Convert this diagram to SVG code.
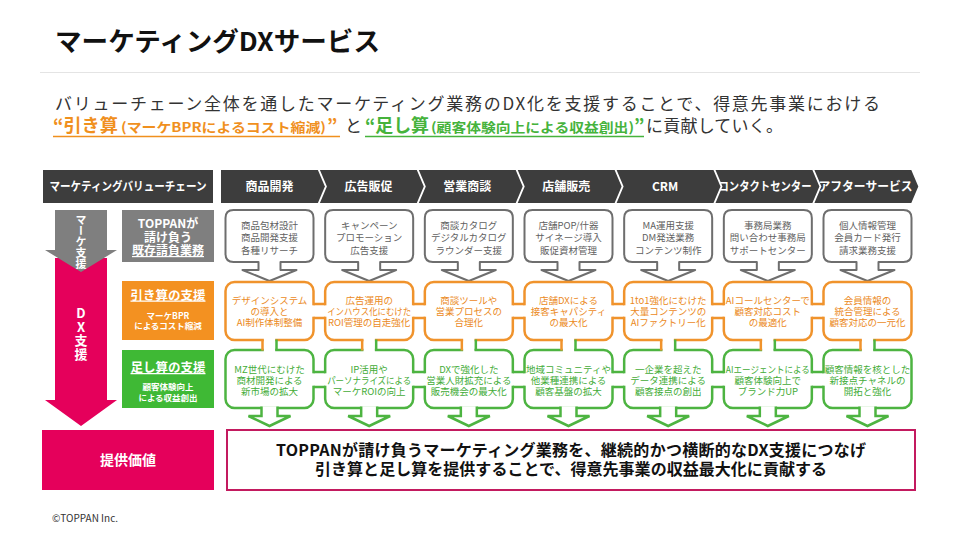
<svg xmlns="http://www.w3.org/2000/svg" width="960" height="540" viewBox="0 0 960 540">
<style>
text{font-family:"Noto Sans CJK JP","Noto Sans",sans-serif}
.hdr{fill:#3d3d3d}
.ht{fill:#fff;font-weight:bold;font-size:12px;text-anchor:middle}
.gb{fill:#fff;stroke:#6e6e6e;stroke-width:2;stroke-linejoin:round}
.gt{fill:#5f5f5f;font-size:9.5px;text-anchor:middle}
.ob{fill:#fff;stroke:#f0932c;stroke-width:2.5}
.ot{fill:#eb8a1d;font-size:9.5px;text-anchor:middle}
.nb{fill:#fff;stroke:#4db441;stroke-width:2.5}
.nt{fill:#43ac37;font-size:9.5px;text-anchor:middle}
.wl{fill:#fff;font-weight:bold;text-anchor:middle}
.vt{fill:#fff;font-weight:bold;writing-mode:vertical-rl;text-orientation:upright}
.ol{stroke:#f0932c;stroke-width:2.5;fill:none}
.nl{stroke:#4db441;stroke-width:2.5;fill:none}
</style>
<defs>
<path id="callout" d="M-36,210H36Q44,210 44,218V254Q44,262 36,262H11V270H27L0,281L-27,270H-11V262H-36Q-44,262 -44,254V218Q-44,210 -36,210Z"/>
<path id="chev" d="M0,170H96.9L103.9,186.5L96.9,203H0L7,186.5Z"/>
<g id="obr"><rect x="-2" y="305.3" width="15.7" height="11.4" fill="#fff"/><path class="ol" d="M0,304H11.7M0,318H11.7"/></g>
<g id="nbr"><rect x="-2" y="373.3" width="15.7" height="12.4" fill="#fff"/><path class="nl" d="M0,372H11.7M0,387H11.7"/></g>
<g id="vbr"><rect x="-5.7" y="337" width="11.4" height="16" fill="#fff"/><path class="ol" d="M-7,339.5V350.5"/><path class="nl" d="M7,339.5V350.5"/></g>
<path id="gar" d="M-8,406.5V416H-21L0,426L21,416H8V406.5" fill="#fff" stroke="#4db441" stroke-width="2.5"/>
</defs>

<g id="title">
<text x="55" y="51" font-size="26" font-weight="bold" fill="#111" textLength="325" lengthAdjust="spacingAndGlyphs">マーケティングDXサービス</text>
<line x1="40" y1="72.5" x2="920" y2="72.5" stroke="#e4e4e4" stroke-width="1"/>
</g>

<g id="lead">
<text x="55" y="110" font-size="17" fill="#333" textLength="825" lengthAdjust="spacing">バリューチェーン全体を通したマーケティング業務のDX化を支援することで、得意先事業における</text>
<text y="132" font-weight="bold" fill="#f0901e"><tspan x="53" font-size="18" textLength="65" lengthAdjust="spacingAndGlyphs">“引き算</tspan><tspan x="121" font-size="13" textLength="205" lengthAdjust="spacingAndGlyphs">(マーケBPRによるコスト縮減)</tspan><tspan x="327" font-size="18">”</tspan></text>
<line x1="53" y1="136.5" x2="340" y2="136.5" stroke="#f0901e" stroke-width="1.5"/>
<text x="345" y="132" font-size="17" fill="#333">と</text>
<text y="132" font-weight="bold" fill="#46b33c"><tspan x="365" font-size="18" textLength="64" lengthAdjust="spacingAndGlyphs">“足し算</tspan><tspan x="431" font-size="13" textLength="203" lengthAdjust="spacingAndGlyphs">(顧客体験向上による収益創出)</tspan><tspan x="634" font-size="18">”</tspan></text>
<line x1="365" y1="136.5" x2="644" y2="136.5" stroke="#46b33c" stroke-width="1.5"/>
<text x="646" y="132" font-size="17" fill="#333" textLength="137" lengthAdjust="spacing">に貢献していく。</text>
</g>

<g id="header">
<g id="h-label"><rect class="hdr" x="43" y="170" width="170" height="33"/><text class="ht" x="128" y="190.5" font-size="11" textLength="157" lengthAdjust="spacingAndGlyphs">マーケティングバリューチェーン</text></g>
<g id="h1"><path class="hdr" d="M221,170H317.9L324.9,186.5L317.9,203H221Z"/><text class="ht" x="269.5" y="191">商品開発</text></g>
<g id="h2"><use href="#chev" x="319.9" class="hdr"/><text class="ht" x="368.4" y="191">広告販促</text></g>
<g id="h3"><use href="#chev" x="418.8" class="hdr"/><text class="ht" x="467.3" y="191">営業商談</text></g>
<g id="h4"><use href="#chev" x="517.7" class="hdr"/><text class="ht" x="566.2" y="191">店舗販売</text></g>
<g id="h5"><use href="#chev" x="616.6" class="hdr"/><text class="ht" x="665.1" y="191">CRM</text></g>
<g id="h6"><use href="#chev" x="715.5" class="hdr"/><text class="ht" x="765" y="190.5" font-size="11" textLength="93" lengthAdjust="spacingAndGlyphs">コンタクトセンター</text></g>
<g id="h7"><use href="#chev" x="814.4" class="hdr"/><text class="ht" x="865.5" y="190.5" font-size="11.5" textLength="94" lengthAdjust="spacingAndGlyphs">アフターサービス</text></g>
</g>

<g id="side-arrows">
<path d="M55,258H107V400H117L81,426L45,400H55Z" fill="#e5005b"/>
<path d="M55,210H107V250H117L81,272L45,250H55Z" fill="#7f7f7f"/>
<text class="vt" x="81" y="214" font-size="11">マーケ支援</text>
<text class="vt" x="81" y="307" font-size="13" letter-spacing="0.5">DX支援</text>
</g>

<g id="row-existing"><rect x="122" y="210" width="92" height="52" fill="#7f7f7f"/>
<text class="wl" font-size="12"><tspan x="168" y="227.5">TOPPANが</tspan><tspan x="168" y="241.5">請け負う</tspan><tspan x="168" y="255" text-decoration="underline">既存請負業務</tspan></text></g>
<g id="row-cut"><rect x="122" y="281" width="92" height="59" fill="#f39121"/>
<text class="wl"><tspan x="168" y="299.5" font-size="12.5" text-decoration="underline">引き算の支援</tspan><tspan x="168" y="318.5" font-size="8.5">マーケBPR</tspan><tspan x="168" y="329" font-size="8.5">によるコスト縮減</tspan></text></g>
<g id="row-add"><rect x="122" y="350" width="92" height="58" fill="#3fb935"/>
<text class="wl"><tspan x="168" y="372" font-size="12.5" text-decoration="underline">足し算の支援</tspan><tspan x="168" y="390" font-size="8.5">顧客体験向上</tspan><tspan x="168" y="401" font-size="8.5">による収益創出</tspan></text></g>

<g id="c1-base" transform="translate(269.5,0)"><use href="#callout" class="gb"/><text class="gt"><tspan x="0" y="228.6">商品包材設計</tspan><tspan x="0" y="241.4">商品開発支援</tspan><tspan x="0" y="253.8">各種リサーチ</tspan></text></g>
<g id="c2-base" transform="translate(369.17,0)"><use href="#callout" class="gb"/><text class="gt"><tspan x="0" y="228.6">キャンペーン</tspan><tspan x="0" y="241.4">プロモーション</tspan><tspan x="0" y="253.8">広告支援</tspan></text></g>
<g id="c3-base" transform="translate(468.83,0)"><use href="#callout" class="gb"/><text class="gt"><tspan x="0" y="228.6">商談カタログ</tspan><tspan x="0" y="241.4">デジタルカタログ</tspan><tspan x="0" y="253.8">ラウンダー支援</tspan></text></g>
<g id="c4-base" transform="translate(568.5,0)"><use href="#callout" class="gb"/><text class="gt"><tspan x="0" y="228.6">店舗POP/什器</tspan><tspan x="0" y="241.4">サイネージ導入</tspan><tspan x="0" y="253.8">販促資材管理</tspan></text></g>
<g id="c5-base" transform="translate(668.17,0)"><use href="#callout" class="gb"/><text class="gt"><tspan x="0" y="228.6">MA運用支援</tspan><tspan x="0" y="241.4">DM発送業務</tspan><tspan x="0" y="253.8">コンテンツ制作</tspan></text></g>
<g id="c6-base" transform="translate(767.83,0)"><use href="#callout" class="gb"/><text class="gt"><tspan x="0" y="228.6">事務局業務</tspan><tspan x="0" y="241.4">問い合わせ事務局</tspan><tspan x="0" y="253.8">サポートセンター</tspan></text></g>
<g id="c7-base" transform="translate(867.5,0)"><use href="#callout" class="gb"/><text class="gt"><tspan x="0" y="228.6">個人情報管理</tspan><tspan x="0" y="241.4">会員カード発行</tspan><tspan x="0" y="253.8">請求業務支援</tspan></text></g>

<g id="c1-cut" transform="translate(269.5,0)"><rect class="ob" x="-44" y="282" width="88" height="58" rx="9"/><text class="ot"><tspan x="0" y="304">デザインシステム</tspan><tspan x="0" y="314.7">の導入と</tspan><tspan x="0" y="325.6">AI制作体制整備</tspan></text></g>
<g id="c2-cut" transform="translate(369.17,0)"><rect class="ob" x="-44" y="282" width="88" height="58" rx="9"/><text class="ot"><tspan x="0" y="304">広告運用の</tspan><tspan x="0" y="314.7" textLength="84" lengthAdjust="spacingAndGlyphs">インハウス化にむけた</tspan><tspan x="0" y="325.6">ROI管理の自走強化</tspan></text></g>
<g id="c3-cut" transform="translate(468.83,0)"><rect class="ob" x="-44" y="282" width="88" height="58" rx="9"/><text class="ot"><tspan x="0" y="304">商談ツールや</tspan><tspan x="0" y="314.7">営業プロセスの</tspan><tspan x="0" y="325.6">合理化</tspan></text></g>
<g id="c4-cut" transform="translate(568.5,0)"><rect class="ob" x="-44" y="282" width="88" height="58" rx="9"/><text class="ot"><tspan x="0" y="304">店舗DXによる</tspan><tspan x="0" y="314.7">接客キャパシティ</tspan><tspan x="0" y="325.6">の最大化</tspan></text></g>
<g id="c5-cut" transform="translate(668.17,0)"><rect class="ob" x="-44" y="282" width="88" height="58" rx="9"/><text class="ot"><tspan x="0" y="304">1to1強化にむけた</tspan><tspan x="0" y="314.7">大量コンテンツの</tspan><tspan x="0" y="325.6">AIファクトリー化</tspan></text></g>
<g id="c6-cut" transform="translate(767.83,0)"><rect class="ob" x="-44" y="282" width="88" height="58" rx="9"/><text class="ot"><tspan x="0" y="304">AIコールセンターで</tspan><tspan x="0" y="314.7">顧客対応コスト</tspan><tspan x="0" y="325.6">の最適化</tspan></text></g>
<g id="c7-cut" transform="translate(867.5,0)"><rect class="ob" x="-44" y="282" width="88" height="58" rx="9"/><text class="ot"><tspan x="0" y="304">会員情報の</tspan><tspan x="0" y="314.7">統合管理による</tspan><tspan x="0" y="325.6">顧客対応の一元化</tspan></text></g>

<g id="c1-add" transform="translate(269.5,0)"><rect class="nb" x="-44" y="350" width="88" height="58" rx="9"/><text class="nt"><tspan x="0" y="372.6">MZ世代にむけた</tspan><tspan x="0" y="384">商材開発による</tspan><tspan x="0" y="395.2">新市場の拡大</tspan></text></g>
<g id="c2-add" transform="translate(369.17,0)"><rect class="nb" x="-44" y="350" width="88" height="58" rx="9"/><text class="nt"><tspan x="0" y="372.6">IP活用や</tspan><tspan x="0" y="384" textLength="84" lengthAdjust="spacingAndGlyphs">パーソナライズによる</tspan><tspan x="0" y="395.2">マーケROIの向上</tspan></text></g>
<g id="c3-add" transform="translate(468.83,0)"><rect class="nb" x="-44" y="350" width="88" height="58" rx="9"/><text class="nt"><tspan x="0" y="372.6">DXで強化した</tspan><tspan x="0" y="384">営業人財拡充による</tspan><tspan x="0" y="395.2">販売機会の最大化</tspan></text></g>
<g id="c4-add" transform="translate(568.5,0)"><rect class="nb" x="-44" y="350" width="88" height="58" rx="9"/><text class="nt"><tspan x="0" y="372.6">地域コミュニティや</tspan><tspan x="0" y="384">他業種連携による</tspan><tspan x="0" y="395.2">顧客基盤の拡大</tspan></text></g>
<g id="c5-add" transform="translate(668.17,0)"><rect class="nb" x="-44" y="350" width="88" height="58" rx="9"/><text class="nt"><tspan x="0" y="372.6">一企業を超えた</tspan><tspan x="0" y="384">データ連携による</tspan><tspan x="0" y="395.2">顧客接点の創出</tspan></text></g>
<g id="c6-add" transform="translate(767.83,0)"><rect class="nb" x="-44" y="350" width="88" height="58" rx="9"/><text class="nt"><tspan x="0" y="372.6" textLength="84" lengthAdjust="spacingAndGlyphs">AIエージェントによる</tspan><tspan x="0" y="384">顧客体験向上で</tspan><tspan x="0" y="395.2">ブランド力UP</tspan></text></g>
<g id="c7-add" transform="translate(867.5,0)"><rect class="nb" x="-44" y="350" width="88" height="58" rx="9"/><text class="nt"><tspan x="0" y="372.6">顧客情報を核とした</tspan><tspan x="0" y="384">新接点チャネルの</tspan><tspan x="0" y="395.2">開拓と強化</tspan></text></g>

<g id="connectors">
<use href="#obr" x="313.5"/><use href="#obr" x="413.17"/><use href="#obr" x="512.83"/><use href="#obr" x="612.5"/><use href="#obr" x="712.17"/><use href="#obr" x="811.83"/>
<use href="#nbr" x="313.5"/><use href="#nbr" x="413.17"/><use href="#nbr" x="512.83"/><use href="#nbr" x="612.5"/><use href="#nbr" x="712.17"/><use href="#nbr" x="811.83"/>
<use href="#vbr" x="269.5"/><use href="#vbr" x="369.17"/><use href="#vbr" x="468.83"/><use href="#vbr" x="568.5"/><use href="#vbr" x="668.17"/><use href="#vbr" x="767.83"/><use href="#vbr" x="867.5"/>
<use href="#gar" x="269.5"/><use href="#gar" x="369.17"/><use href="#gar" x="468.83"/><use href="#gar" x="568.5"/><use href="#gar" x="668.17"/><use href="#gar" x="767.83"/><use href="#gar" x="867.5"/>
</g>

<g id="value-label"><rect x="42" y="430" width="172" height="60" fill="#e5005b"/><text class="wl" x="128" y="465" font-size="14">提供価値</text></g>
<g id="value-box"><rect x="227" y="430" width="688" height="60" fill="#fff" stroke="#c31a5f" stroke-width="2"/>
<text font-weight="bold" font-size="16" fill="#111" text-anchor="middle"><tspan x="571" y="456" textLength="590" lengthAdjust="spacing">TOPPANが請け負うマーケティング業務を、継続的かつ横断的なDX支援につなげ</tspan><tspan x="571" y="475" textLength="512" lengthAdjust="spacing">引き算と足し算を提供することで、得意先事業の収益最大化に貢献する</tspan></text></g>

<text x="52" y="522" font-family="Liberation Sans, sans-serif" font-size="10" fill="#333">©TOPPAN Inc.</text>
</svg>
